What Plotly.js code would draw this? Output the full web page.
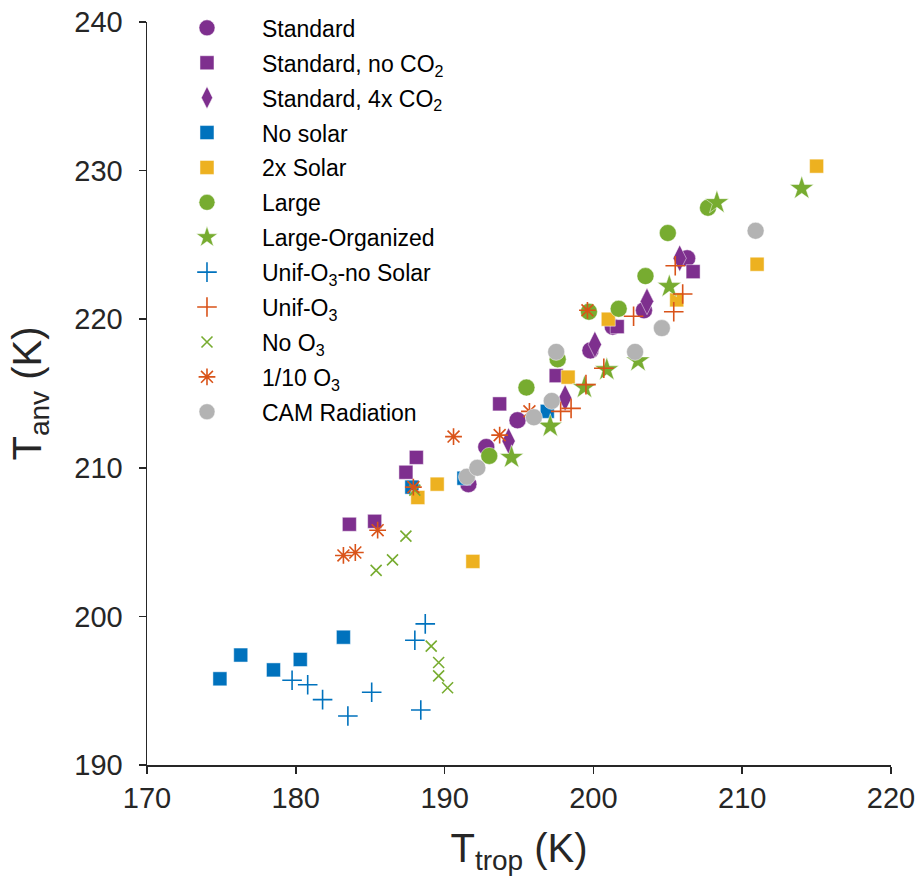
<!DOCTYPE html>
<html>
<head>
<meta charset="utf-8">
<script src="https://cdn.plot.ly/plotly-3.0.1.min.js"></script>
<style>html,body{margin:0;padding:0;background:#fff;}#chart{width:919px;height:892px;}</style>
</head>
<body>
<div id="chart"></div>
<script>
// ---- Data (T_trop, T_anv) ----
const standardX = [191.6, 192.8, 194.9, 199.8, 201.3, 203.4, 206.3];
const standardY = [208.9, 211.4, 213.2, 217.9, 219.5, 220.6, 224.1];

const noCO2X = [183.6, 185.3, 187.4, 188.1, 193.7, 197.5, 201.6, 206.7];
const noCO2Y = [206.2, 206.4, 209.7, 210.7, 214.3, 216.2, 219.5, 223.2];

const co2x4X = [194.3, 198.1, 200.1, 203.6, 205.8];
const co2x4Y = [211.8, 214.7, 218.3, 221.2, 224.1];

const noSolarX = [174.9, 176.3, 178.5, 180.3, 183.2, 187.8, 191.3, 196.9];
const noSolarY = [195.8, 197.4, 196.4, 197.1, 198.6, 208.7, 209.3, 213.8];

const solar2xX = [188.2, 189.5, 191.9, 198.3, 201.0, 205.6, 211.0, 215.0];
const solar2xY = [208.0, 208.9, 203.7, 216.1, 220.0, 221.3, 223.7, 230.3];

const largeX = [193.0, 195.5, 197.6, 199.7, 201.7, 203.5, 205.0, 207.7];
const largeY = [210.8, 215.4, 217.3, 220.5, 220.7, 222.9, 225.8, 227.5];

const largeOrgX = [194.5, 197.1, 199.4, 200.9, 203.0, 205.1, 208.3, 214.0];
const largeOrgY = [210.7, 212.8, 215.4, 216.6, 217.2, 222.2, 227.85, 228.8];

const unifNoSolarX = [179.75, 180.8, 181.8, 183.5, 185.1, 188.0, 188.7, 188.4];
const unifNoSolarY = [195.7, 195.4, 194.4, 193.3, 194.9, 198.4, 199.5, 193.7];

const unifX = [197.8, 198.5, 199.5, 200.7, 202.7, 205.4, 205.5, 206.0];
const unifY = [213.8, 214.0, 215.6, 216.7, 220.2, 220.5, 223.6, 221.7];

const noO3X = [185.4, 186.5, 187.4, 188.0, 189.1, 189.6, 189.6, 190.2];
const noO3Y = [203.1, 203.8, 205.4, 208.5, 198.0, 196.9, 196.0, 195.2];

const tenthO3X = [183.2, 184.0, 185.5, 187.9, 190.6, 193.7, 195.7, 199.6];
const tenthO3Y = [204.1, 204.3, 205.8, 208.7, 212.1, 212.2, 213.8, 220.6];

const camX = [191.5, 192.2, 196.0, 197.2, 197.5, 202.8, 204.6, 210.9];
const camY = [209.4, 210.0, 213.4, 214.5, 217.8, 217.8, 219.4, 225.95];

const seriesNames = [
  'Standard',
  'Standard, no CO<sub>2</sub>',
  'Standard, 4x CO<sub>2</sub>',
  'No solar',
  '2x Solar',
  'Large',
  'Large-Organized',
  'Unif-O<sub>3</sub>-no Solar',
  'Unif-O<sub>3</sub>',
  'No O<sub>3</sub>',
  '1/10 O<sub>3</sub>',
  'CAM Radiation'
];
const xTickVals = [170, 180, 190, 200, 210, 220];
const yTickVals = [190, 200, 210, 220, 230, 240];

// ---- Styles ----
const purple = '#7E2F8E', blue = '#0072BD', yellow = '#EDB120',
      green = '#77AC30', orange = '#D95319', grey = '#B3B3B3';

let gi = 0;
function filled(x, y, name, symbol, color, size) {
  return {x, y, name, type: 'scatter', mode: 'markers', legendgroup: 'g' + (gi++),
    marker: {symbol, color, size, line: {width: 0.6, color: 'rgba(255,255,255,0.8)'}}};
}
function open(x, y, name, symbol, color, size) {
  return {x, y, name, type: 'scatter', mode: 'markers', legendgroup: 'g' + (gi++),
    marker: {symbol, color, size, line: {width: 1.6, color}}};
}

const traces = [
  filled(standardX, standardY, seriesNames[0], 'circle', purple, 17),
  filled(noCO2X, noCO2Y, seriesNames[1], 'square', purple, 14),
  filled(co2x4X, co2x4Y, seriesNames[2], 'diamond-tall', purple, 19),
  filled(noSolarX, noSolarY, seriesNames[3], 'square', blue, 14),
  filled(solar2xX, solar2xY, seriesNames[4], 'square', yellow, 14),
  filled(largeX, largeY, seriesNames[5], 'circle', green, 17),
  filled(largeOrgX, largeOrgY, seriesNames[6], 'star', green, 18),
  open(unifNoSolarX, unifNoSolarY, seriesNames[7], 'cross-thin-open', blue, 14),
  open(unifX, unifY, seriesNames[8], 'cross-thin-open', orange, 14),
  open(noO3X, noO3Y, seriesNames[9], 'x-thin-open', green, 11),
  open(tenthO3X, tenthO3Y, seriesNames[10], 'asterisk-open', orange, 14),
  filled(camX, camY, seriesNames[11], 'circle', grey, 17)
];

const axisCommon = {
  showgrid: false, zeroline: false, showline: true,
  linecolor: '#262626', linewidth: 1.5,
  ticks: 'outside', ticklen: 7, tickwidth: 1.5, tickcolor: '#262626',
  tickfont: {family: 'Liberation Sans, Arial, sans-serif', size: 29, color: '#262626'},
  mirror: false
};

const layout = {
  width: 919, height: 892,
  margin: {l: 147, r: 28, t: 22, b: 127, autoexpand: false},
  paper_bgcolor: '#fff', plot_bgcolor: '#fff',
  font: {family: 'Liberation Sans, Arial, sans-serif', color: '#262626'},
  xaxis: Object.assign({}, axisCommon, {
    range: [170, 220], tickvals: xTickVals, ticktext: xTickVals.map(String),
    title: {text: 'T<sub>trop</sub> (K)', font: {size: 40, color: '#262626'}, standoff: 20}
  }),
  yaxis: Object.assign({}, axisCommon, {
    range: [190, 240], tickvals: yTickVals, ticktext: yTickVals.map(String),
    ticklabelstandoff: 10,
    title: {text: 'T<sub>anv</sub> (K)', font: {size: 40, color: '#262626'}, standoff: 20}
  }),
  showlegend: true,
  legend: {
    x: 0.0067, y: 1.021, xanchor: 'left', yanchor: 'top',
    bgcolor: 'rgba(0,0,0,0)', borderwidth: 0,
    font: {family: 'Liberation Sans, Arial, sans-serif', size: 23, color: '#000'},
    itemwidth: 100, tracegroupgap: 2
  }
};

Plotly.newPlot('chart', traces, layout, {staticPlot: true, displayModeBar: false});
</script>
</body>
</html>
